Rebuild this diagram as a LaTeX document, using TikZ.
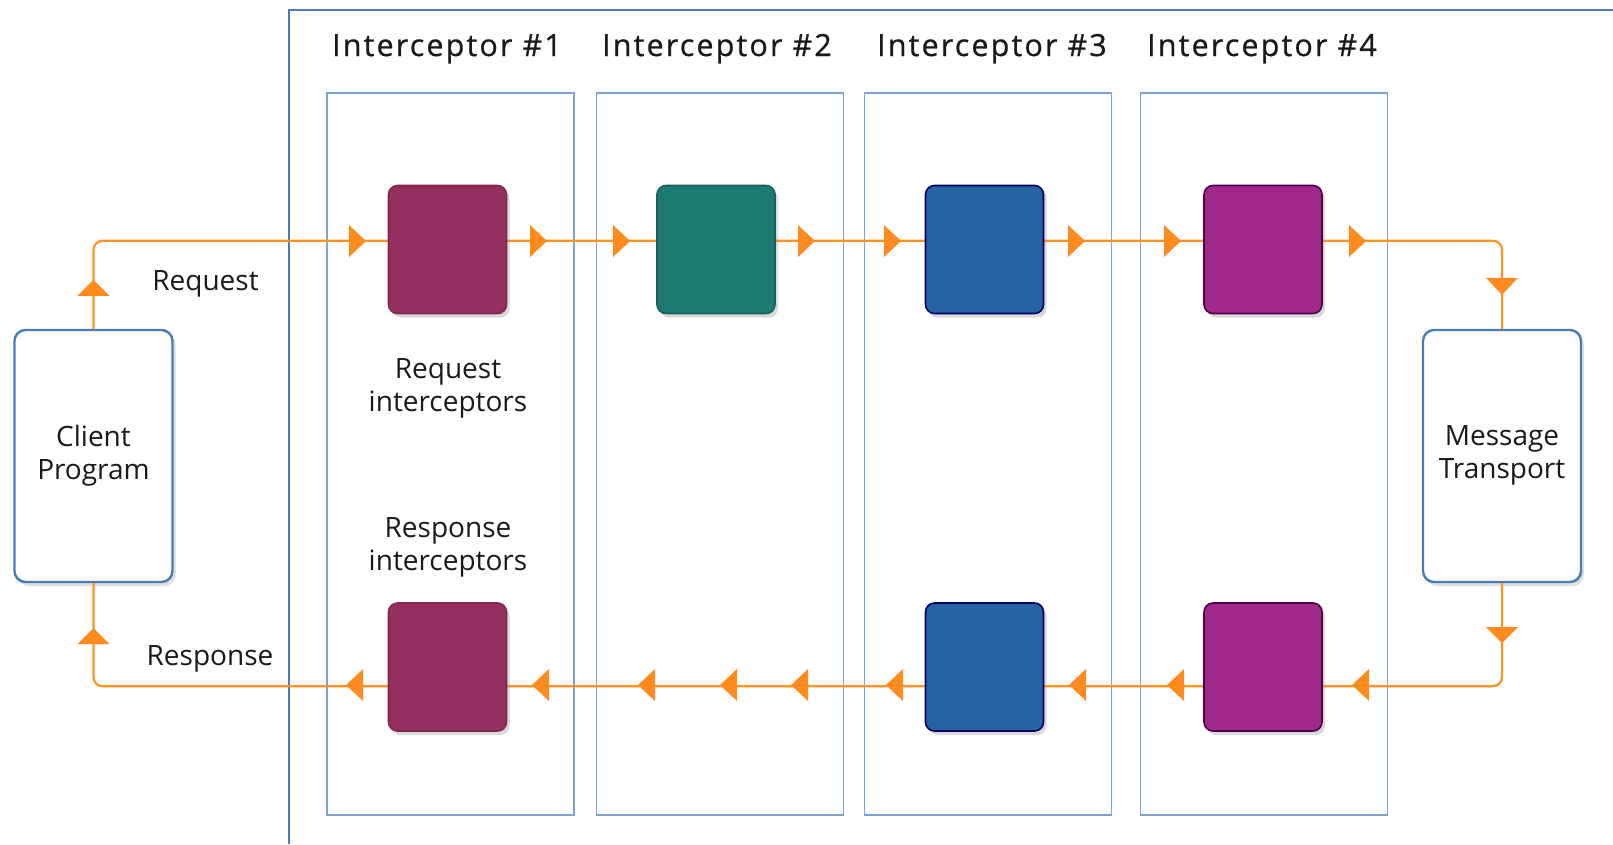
\documentclass[tikz,border=0pt]{standalone}
\usepackage{fontspec}
\setmainfont{Open Sans}
\newfontfamily\lanefont[LetterSpace=7,FakeBold=0.8]{Open Sans}
\usetikzlibrary{positioning,shadows}
\definecolor{ink}{HTML}{1A1A1A}
\definecolor{flowcol}{HTML}{FF9220}
\definecolor{framecol}{HTML}{4A7AB8}
\definecolor{lanecol}{HTML}{7BA3D6}
\definecolor{icmaroon}{HTML}{952F60}
\definecolor{icteal}{HTML}{1E7B72}
\definecolor{icblue}{HTML}{2562A2}
\definecolor{icpurple}{HTML}{A0298A}
\tikzset{%
  frame/.style     = {draw=framecol, line width=2pt},%
  lane/.style      = {draw=lanecol, line width=1.8pt, inner sep=0pt,%
                      minimum width=247pt, minimum height=722pt},%
  lanetitle/.style = {font=\lanefont\fontsize{30.5}{33}\selectfont},%
  handler/.style   = {rounded corners=9pt, line width=1.6pt, inner sep=0pt,%
                      minimum width=118pt, minimum height=128pt,%
                      drop shadow={shadow xshift=3pt, shadow yshift=-4pt, opacity=0.3}},%
  endpoint/.style  = {draw=framecol, line width=2.4pt, rounded corners=11pt,%
                      fill=white, align=center, inner sep=0pt,%
                      minimum width=158pt, minimum height=252pt,%
                      drop shadow={shadow xshift=3pt, shadow yshift=-4pt, opacity=0.25}},%
  flow/.style      = {draw=flowcol, line width=2.2pt, rounded corners=9pt},%
  flowtip/.style   = {fill=flowcol!95!red}%
}
\begin{document}
\begin{tikzpicture}[x=1pt,y=-1pt,
    every node/.style={font=\fontsize{28}{33}\selectfont, text=ink}]
  \useasboundingbox (0,0) rectangle (1613,844);
  % outer frame, open at right and bottom
  \draw[frame] (289,844) -- (289,10) -- (1613,10);
  % interceptor lanes
  \foreach \i/\x in {1/450.5, 2/720, 3/988, 4/1264}
    \node[lane] (lane\i) at (\x,454) {};
  \foreach \i/\x in {1/447, 2/717, 3/992, 4/1262}
    \node[lanetitle, anchor=base] (title\i) at (\x,56) {Interceptor \#\i};
  % client and transport
  \node[endpoint] (client) at (93.5,456) {Client\\Program\\[-25pt]};
  \node[endpoint] (transport) at (1502,456) {Message\\Transport\\[-25pt]};
  % request and response paths
  \draw[flow] (client.north) -- ++(0,-88) -| (transport.north);
  \draw[flow] (transport.south) -- ++(0,103) -| (client.south);
  % request interceptors
  \node[handler, fill=icmaroon, draw=icmaroon!85!black] (req1) at (447.5,249.5) {};
  \node[handler, fill=icteal, draw=icteal!80!black] (req2) at (716,249.5) {};
  \node[handler, fill=icblue, draw=blue!40!black] (req3) at (984.5,249.5) {};
  \node[handler, fill=icpurple, draw=violet!60!black] (req4) at (1263,249.5) {};
  % response interceptors
  \node[handler, fill=icmaroon, draw=icmaroon!85!black] (resp1) at (447.5,667) {};
  \node[handler, fill=icblue, draw=blue!40!black] (resp3) at (984.5,667) {};
  \node[handler, fill=icpurple, draw=violet!60!black] (resp4) at (1263,667) {};
  % arrow heads
  \foreach \x in {366,547,630,815,901,1085,1181,1366}
    \fill[flowtip] (\x,241) -- ++(-17,-16) -- ++(0,32) -- cycle;
  \foreach \x in {346,532,638,720,791,886,1069,1167,1352}
    \fill[flowtip] (\x,685) -- ++(17,-16) -- ++(0,32) -- cycle;
  \fill[flowtip] ([yshift=49pt]client.north) -- ++(-16,16) -- ++(32,0) -- cycle;
  \fill[flowtip] ([yshift=34pt]transport.north) -- ++(-16,-17) -- ++(32,0) -- cycle;
  \fill[flowtip] ([yshift=-60pt]transport.south) -- ++(-16,-16) -- ++(32,0) -- cycle;
  \fill[flowtip] ([yshift=-45pt]client.south) -- ++(-16,16) -- ++(32,0) -- cycle;
  % labels
  \node[anchor=base] (reqlabel) at (205.5,290) {Request};
  \node[anchor=base] (resplabel) at (210,665) {Response};
  \node[align=center] (reqgroup) at (448,388) {Request\\interceptors};
  \node[align=center] (respgroup) at (448,547) {Response\\interceptors};
\end{tikzpicture}
\end{document}
